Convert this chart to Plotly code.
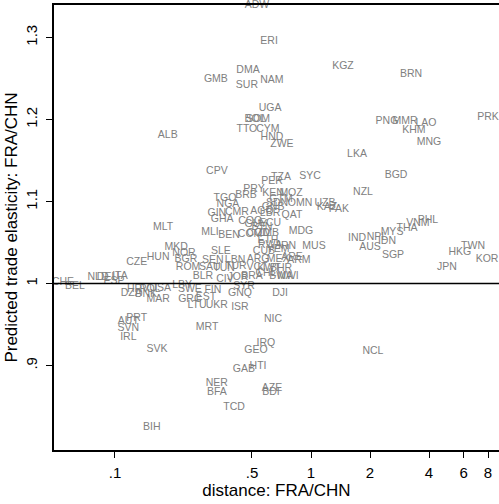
import plotly.graph_objects as go

codes = ["ADW","ERI","DMA","GMB","SUR","NAM","UGA","BOL","SOM","TTO",
         "CYM","HND","ZWE","ALB","CPV","KGZ","BRN","PNG","MMR","LAO",
         "KHM","MNG","PRK","LKA","TZA","PER","SYC","BGD","NZL","PRY",
         "KEN","MOZ","BRB","TGO","NGA","GTM","SDN","OMN","UZB","KAZ",
         "PAK","GNB","GIN","CMR","AGO","LBR","QAT","GHA","COG","GUY",
         "ECU","BTN","MLI","BEN","COM","COD","ZMB","MDG","ETH","RWA",
         "IRN","CUB","YEM","MUS","SLE","MKD","NOR","HUN","CZE","MLT",
         "BGR","ROM","SEN","LBN","ARG","MEX","ARE","ARM","SAU","TUN",
         "TUR","VCT","KWT","BHR","CIV","BLR","JOR","BRA","CHL","BWA",
         "MWI","SYR","CHE","BEL","NLD","DEU","ITA","ESP","HRV","POL",
         "USA","LBY","SWE","DZA","DNK","MAR","GRC","EST","LTU","UKR",
         "ISR","FIN","GNQ","DJI","NIC","MRT","AUT","PRT","SVN","IRL",
         "SVK","IRQ","GEO","HTI","GAB","NER","BFA","AZE","BDI","TCD",
         "BIH","NCL","IND","NPL","AUS","IDN","MYS","THA","VNM","PHL",
         "SGP","TWN","HKG","KOR","JPN"]

distance = [0.530,0.611,0.477,0.327,0.471,0.632,0.618,0.518,0.537,0.471,
            0.603,0.632,0.711,0.186,0.331,1.456,3.237,2.44,3.017,3.86,
            3.35,4.0,8.0,1.717,0.703,0.632,0.988,2.714,1.842,0.512,
            0.640,0.791,0.466,0.364,0.377,0.703,0.671,0.879,1.179,1.207,
            1.389,0.640,0.331,0.419,0.562,0.618,0.800,0.352,0.489,0.524,
            0.618,0.562,0.305,0.382,0.489,0.537,0.603,0.889,0.603,0.618,
            0.755,0.575,0.679,1.036,0.347,0.205,0.225,0.166,0.129,0.176,
            0.230,0.236,0.316,0.410,0.537,0.679,0.800,0.868,0.305,0.360,
            0.414,0.530,0.611,0.703,0.364,0.281,0.424,0.500,0.589,0.703,
            0.763,0.455,0.0543,0.0625,0.0819,0.0921,0.106,0.0989,0.131,0.151,
            0.170,0.220,0.241,0.121,0.144,0.166,0.241,0.291,0.262,0.331,
            0.434,0.316,0.434,0.695,0.640,0.295,0.117,0.129,0.117,0.117,
            0.164,0.589,0.524,0.537,0.455,0.331,0.331,0.632,0.625,0.405,
            0.154,2.07,1.717,2.17,2.0,2.44,2.59,3.09,3.51,3.95,
            2.62,6.71,5.75,7.91,4.94]

elasticity = [1.3396,1.2957,1.2604,1.2494,1.2421,1.2482,1.2140,1.2006,1.2006,1.1884,
              1.1884,1.1787,1.1701,1.1811,1.1372,1.2652,1.2555,1.1982,1.1982,1.1957,
              1.1872,1.1726,1.2030,1.1579,1.1299,1.1250,1.1311,1.1323,1.1116,1.1152,
              1.1104,1.1104,1.1079,1.1043,1.0970,1.1030,1.0982,1.0982,1.0982,1.0933,
              1.0909,1.0933,1.0860,1.0872,1.0884,1.0860,1.0835,1.0787,1.0762,1.0726,
              1.0738,1.0689,1.0628,1.0591,1.0604,1.0616,1.0616,1.0640,1.0530,1.0470,
              1.0457,1.0396,1.0421,1.0457,1.0396,1.0445,1.0372,1.0323,1.0262,1.0689,
              1.0299,1.0201,1.0287,1.0287,1.0299,1.0299,1.0323,1.0287,1.0201,1.0189,
              1.0213,1.0201,1.0189,1.0189,1.0055,1.0091,1.0079,1.0091,1.0128,1.0091,
              1.0091,0.9970,1.0018,0.9970,1.0079,1.0079,1.0091,1.0030,0.9933,0.9933,
              0.9945,0.9982,0.9933,0.9884,0.9872,0.9811,0.9811,0.9835,0.9738,0.9738,
              0.9713,0.9921,0.9884,0.9884,0.9567,0.9470,0.9543,0.9579,0.9457,0.9348,
              0.9201,0.9274,0.9189,0.8994,0.8957,0.8787,0.8677,0.8726,0.8677,0.8494,
              0.8250,0.9177,1.0555,1.0567,1.0445,1.0518,1.0628,1.0677,1.0738,1.0774,
              1.0348,1.0457,1.0384,1.0299,1.0201]

x_ticks = [0.1, 0.5, 1, 2, 4, 6, 8]
x_tick_text = [".1", ".5", "1", "2", "4", "6", "8"]
y_ticks = [0.9, 1.0, 1.1, 1.2, 1.3]
y_tick_text = [".9", "1", "1.1", "1.2", "1.3"]

FONT = "Liberation Sans, Arial, Helvetica, sans-serif"

fig = go.Figure()
fig.add_trace(go.Scatter(
    x=distance, y=elasticity, text=codes, mode="text",
    textposition="middle center",
    textfont=dict(family=FONT, size=10.5, color="#808080"),
    cliponaxis=False, hoverinfo="skip", showlegend=False))

fig.add_shape(type="line", xref="paper", x0=0, x1=1, yref="y", y0=1, y1=1,
              line=dict(color="black", width=1.5))

fig.update_layout(
    width=499, height=504,
    margin=dict(l=54, r=0, t=5, b=54),
    paper_bgcolor="white", plot_bgcolor="white",
    font=dict(family=FONT, color="black"),
    xaxis=dict(type="log", range=[-1.311, 0.959],
               tickvals=x_ticks, ticktext=x_tick_text,
               ticks="outside", ticklen=6, tickwidth=1.2, tickcolor="black",
               ticklabelstandoff=2,
               showline=True, linecolor="black", linewidth=1.5, mirror=True,
               showgrid=False, zeroline=False,
               tickfont=dict(size=15),
               title=dict(text="distance: FRA/CHN", font=dict(size=17), standoff=2)),
    yaxis=dict(range=[0.797, 1.3396],
               tickvals=y_ticks, ticktext=y_tick_text, tickangle=-90,
               ticks="outside", ticklen=6, tickwidth=1.2, tickcolor="black",
               ticklabelstandoff=3,
               showline=True, linecolor="black", linewidth=1.5,
               showgrid=False, zeroline=False,
               tickfont=dict(size=15),
               title=dict(text="Predicted trade elasticity: FRA/CHN", font=dict(size=17), standoff=1)),
)

fig.write_html("out.html")
